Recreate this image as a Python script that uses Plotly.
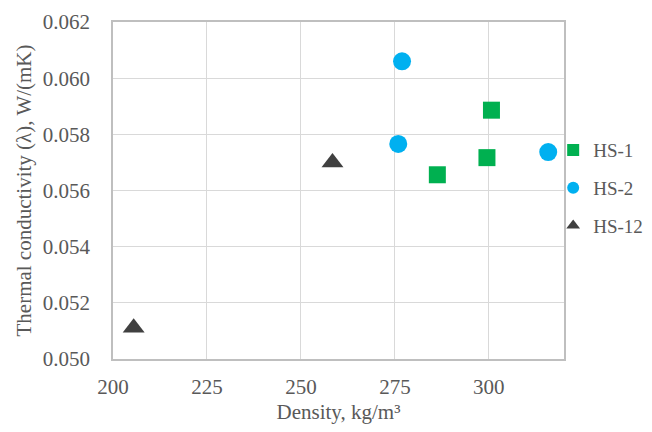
import plotly.graph_objects as go

hs1_x = [300.7, 299.5, 286.3]
hs1_y = [0.05886, 0.05717, 0.05656]
hs2_x = [276.9, 275.9, 315.8]
hs2_y = [0.0606, 0.05766, 0.05737]
hs12_x = [258.4, 205.5]
hs12_y = [0.0570, 0.05111]

x_ticks = [200, 225, 250, 275, 300]
y_ticks = [0.050, 0.052, 0.054, 0.056, 0.058, 0.060, 0.062]

font_family = "Liberation Serif, DejaVu Serif, serif"
txt_color = "#595959"
fs = 21

fig = go.Figure()
fig.add_trace(go.Scatter(x=hs1_x, y=hs1_y, mode="markers", name="HS-1", legendgroup="a",
                         marker=dict(symbol="square", size=17, color="#00B050")))
fig.add_trace(go.Scatter(x=hs2_x, y=hs2_y, mode="markers", name="HS-2", legendgroup="b",
                         marker=dict(symbol="circle", size=18, color="#00B0F0")))
fig.add_trace(go.Scatter(x=hs12_x, y=hs12_y, mode="markers", name="HS-12", legendgroup="c",
                         marker=dict(symbol="triangle-up", size=19, color="#404040")))

# page body has an 8px margin, so the figure is offset by (8, 8)
fig.update_layout(
    width=644, height=416,
    margin=dict(l=105, r=88, t=14, b=65, autoexpand=False),
    paper_bgcolor="white", plot_bgcolor="white",
    font=dict(family=font_family, size=fs, color=txt_color),
    legend=dict(x=0.976, y=0.507, xanchor="left", yanchor="middle",
                font=dict(size=19, color=txt_color), itemsizing="constant",
                tracegroupgap=10, bgcolor="rgba(0,0,0,0)", itemwidth=30),
    showlegend=True,
)
fig.update_xaxes(
    range=[200, 320], tickvals=x_ticks, ticktext=[str(v) for v in x_ticks],
    showgrid=True, gridcolor="#d9d9d9", gridwidth=1,
    showline=True, linecolor="#bfbfbf", linewidth=1.5, mirror=True,
    zeroline=False, ticks="", ticklabelstandoff=8, automargin=False,
    title=dict(text="Density, kg/m³", standoff=12, font=dict(size=fs)),
)
fig.update_yaxes(
    range=[0.050, 0.062], tickvals=y_ticks, ticktext=[f"{v:.3f}" for v in y_ticks],
    showgrid=True, gridcolor="#d9d9d9", gridwidth=1,
    showline=True, linecolor="#bfbfbf", linewidth=1.5, mirror=True,
    zeroline=False, ticks="", ticklabelstandoff=17, automargin=False,
    title=dict(text="Thermal conductivity (λ), W/(mK)", standoff=5, font=dict(size=fs)),
)

fig.write_html("out.html")
